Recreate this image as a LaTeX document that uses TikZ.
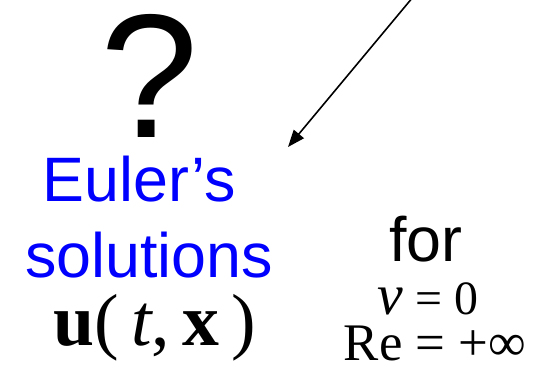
\documentclass[tikz,border=0pt]{standalone}
\usepackage{fontspec}
\setmainfont{Liberation Sans}
\newfontfamily\eqfont{Liberation Serif}
\usetikzlibrary{arrows.meta}

\begin{document}
\begin{tikzpicture}[>={Triangle[length=17bp,width=13bp]}, line cap=round, line join=round, x=1bp, y=-1bp]
\tikzset{
  testo/.style={anchor=base, inner sep=0pt, font=\fontsize{63}{76}\selectfont},
  formula/.style={anchor=base, inner sep=0pt}
}

% Cornice
\useasboundingbox (0,0) rectangle (536,365);

% Punto interrogativo
\node[testo, font=\fontsize{177}{177}\selectfont, text height=0.74em] (domanda) at (150,137) {?};

% Soluzioni di Euler
\node[testo, text=blue] (euler) at (139,201) {Euler’s};
\node[testo, text=blue] (soluzioni) at (149,277) {solutions};
\node[formula, font=\eqfont\fontsize{74}{74}\selectfont] (campo) at (155,345) {\textbf{u}(\,\textit{t},\,\textbf{x}\,)};

% Condizioni
\node[testo] (per) at (426,261) {for};
\node[formula, font=\eqfont\fontsize{48}{48}\selectfont, text depth=0pt] (viscosita) at (428,314) {{\fontsize{58}{58}\selectfont\textit{ν}} = 0};
\node[formula, font=\eqfont\fontsize{53}{53}\selectfont, text height=0.68em, text depth=0pt] (reynolds) at (435,360) {Re = +∞};

% Freccia
\coordinate (inizio) at (413,-3);
\coordinate (punta) at (288,147);
\draw[->, line width=1.6bp] (inizio) -- (punta);

\end{tikzpicture}
\end{document}
